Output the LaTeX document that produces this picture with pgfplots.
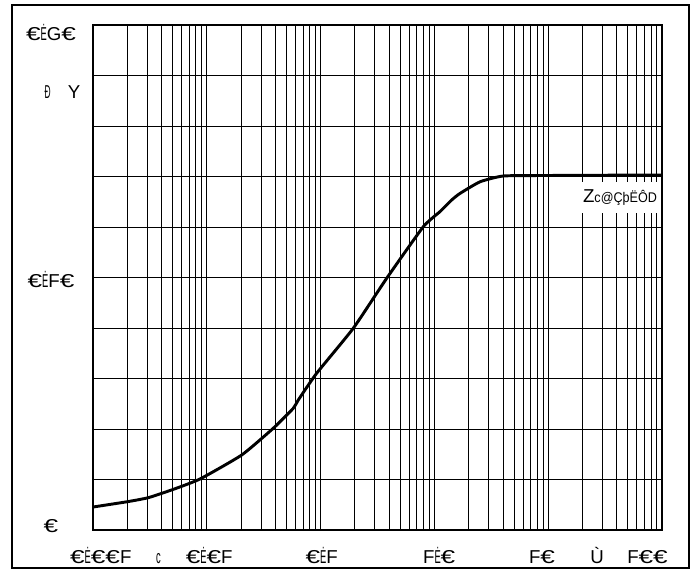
\documentclass[border=0pt]{standalone}
\usepackage{fontspec}
\setmainfont{Liberation Sans}
\usepackage{graphicx}
\usepackage{pgfplots}
\pgfplotsset{compat=1.18}
\newcommand{\eu}{\scalebox{1.4}[1]{€}}
\newcommand{\ed}{\scalebox{0.5}[1]{Ė}}
\newcommand{\lab}[1]{{\fontsize{14pt}{16pt}\selectfont #1}}
\pgfplotstableread{
x y
0.001 0.0091
0.002 0.0112
0.003062 0.0128
0.005077 0.0161
0.008714 0.0202
0.02026 0.0297
0.03841 0.0403
0.05754 0.0482
0.06368 0.0515
0.09242 0.0621
0.1938 0.0799
0.3809 0.0997
0.7989 0.1201
1.120 0.1261
1.419 0.1307
1.679 0.1333
2.516 0.1379
4.031 0.1402
10 0.1404
100 0.1406
}\curve
\begin{document}
\begin{tikzpicture}
\path[use as bounding box] (0,0) rectangle (522pt,429pt);
\draw[line width=1.4pt] (9pt,3pt) rectangle (516.5pt,425.25pt);
\begin{axis}[
  at={(69.75pt,31.5pt)}, anchor=south west,
  scale only axis, width=426.75pt, height=378.75pt,
  xmode=log, log basis x=10,
  xmin=0.001, xmax=100, ymin=0, ymax=0.2,
  axis line style={black, line width=0.8pt},
  xtick={0.001171,0.003764,0.0105,0.10226,1.1022,8.819,26.85,74.57},
  xticklabels={\lab{\eu\ed\eu\eu F},{\scalebox{0.5}[1]{\fontsize{14pt}{16pt}\selectfont c}},\lab{\eu\ed\eu F},\lab{\eu\ed F},\lab{F\ed\eu},\lab{F\eu},\lab{Ù},\lab{F\eu\eu}},
  ytick={0.00139,0.0992,0.1733,0.1970},
  yticklabels={\lab{\eu},\lab{\eu\ed F\eu},{\fontsize{14pt}{16pt}\selectfont\hspace*{17.25pt}\scalebox{0.45}[1]{Ð}\hspace{12.75pt}Y},\lab{\eu\ed G\eu}},
  xticklabel style={anchor=base, yshift=-24.75pt},
  yticklabel style={anchor=center, xshift=-31.5pt},
  major tick length=0pt, minor tick length=0pt,
  minor xtick={0.001,0.002,0.003,0.004,0.005,0.006,0.007,0.008,0.009,
    0.01,0.02,0.03,0.04,0.05,0.06,0.07,0.08,0.09,
    0.1,0.2,0.3,0.4,0.5,0.6,0.7,0.8,0.9,
    1,2,3,4,5,6,7,8,9,10,20,30,40,50,60,70,80,90,100},
  minor ytick={0,0.02,0.04,0.06,0.08,0.1,0.12,0.14,0.16,0.18,0.2},
  xmajorgrids=false, ymajorgrids=false,
  xminorgrids=true, yminorgrids=true,
  minor grid style={black, line width=0.6pt},
  clip=false,
]
\addplot[black, line width=2.2pt, smooth, tension=0.3, line join=round] table {\curve};
\node[fill=white, inner sep=0pt, minimum width=58.5pt, minimum height=23.25pt]
  at (axis cs:42.76,0.1317)
  {{\fontsize{14pt}{16pt}\selectfont Z}\scalebox{0.9}[1]{\fontsize{10.5pt}{12pt}\selectfont c@ÇþËÔD}};
\end{axis}
\end{tikzpicture}
\end{document}
